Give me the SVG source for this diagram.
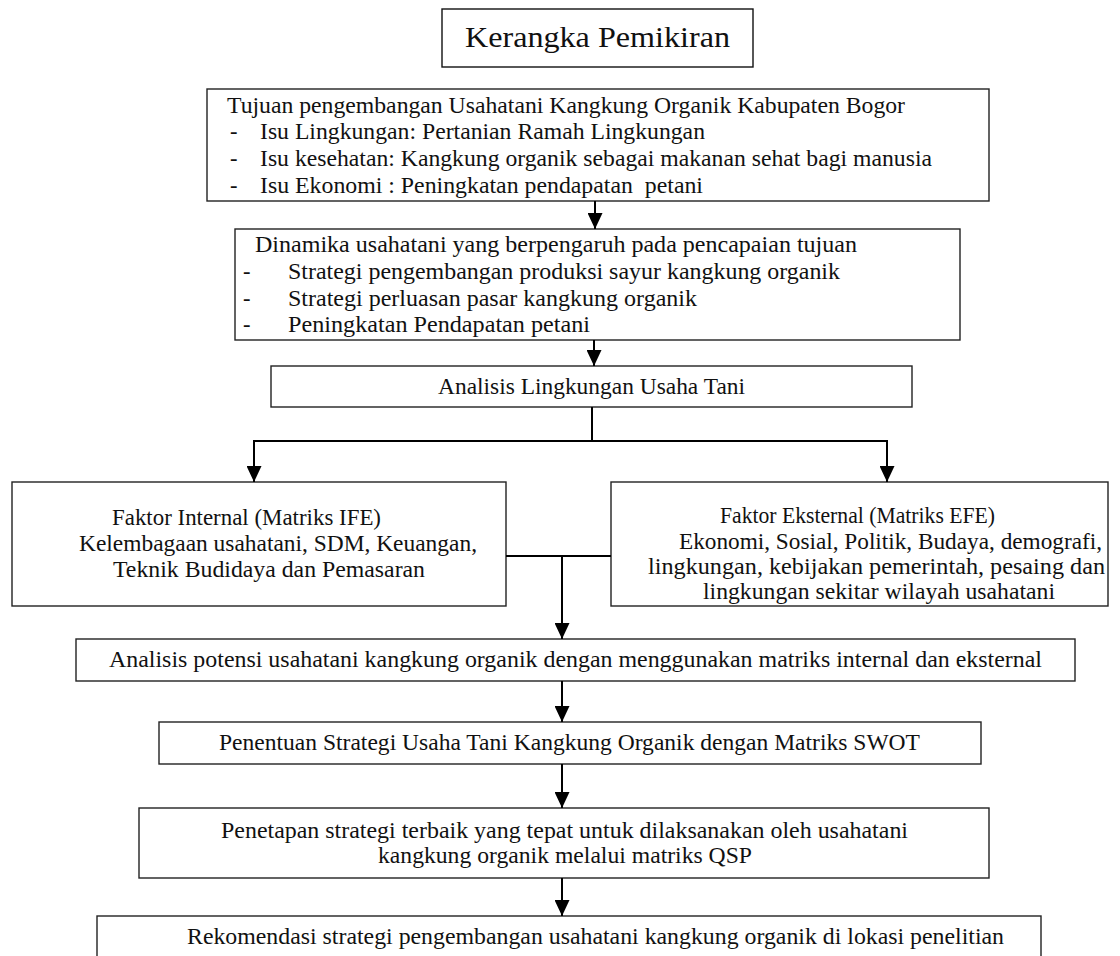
<svg xmlns="http://www.w3.org/2000/svg" width="1120" height="956" viewBox="0 0 1120 956">
<style>
.box{fill:#fff;stroke:#222;stroke-width:1.4}
.t{font-family:"Liberation Serif","Times New Roman",serif;font-size:22.5px;fill:#111;white-space:pre}
.title{font-family:"Liberation Serif","Times New Roman",serif;font-size:30px;fill:#111}
.c{fill:none;stroke:#000;stroke-width:2}
</style>
<defs>
<marker id="ah" viewBox="0 0 16 15" refX="16" refY="7.5" markerWidth="16" markerHeight="15" markerUnits="userSpaceOnUse" orient="auto"><path d="M0,0 L16,7.5 L0,15 z" fill="#000"/></marker>
</defs>
<rect width="1120" height="956" fill="#fff"/>

<g id="title">
<rect class="box" x="442" y="9" width="311" height="58" style="stroke:#111"/>
<text class="title" x="465" y="47" textLength="265" lengthAdjust="spacingAndGlyphs">Kerangka Pemikiran</text>
</g>

<g id="tujuan">
<rect class="box" x="207" y="89" width="782" height="112"/>
<text class="t" x="227" y="113" textLength="678" lengthAdjust="spacingAndGlyphs">Tujuan pengembangan Usahatani Kangkung Organik Kabupaten Bogor</text>
<text class="t" x="230" y="139">-</text>
<text class="t" x="260" y="139" textLength="445" lengthAdjust="spacingAndGlyphs">Isu Lingkungan: Pertanian Ramah Lingkungan</text>
<text class="t" x="230" y="166">-</text>
<text class="t" x="260" y="166" textLength="672" lengthAdjust="spacingAndGlyphs">Isu kesehatan: Kangkung organik sebagai makanan sehat bagi manusia</text>
<text class="t" x="230" y="193">-</text>
<text class="t" x="260" y="193" textLength="443" lengthAdjust="spacingAndGlyphs">Isu Ekonomi : Peningkatan pendapatan  petani</text>
</g>

<g id="dinamika">
<rect class="box" x="235" y="229" width="725" height="111"/>
<text class="t" x="255" y="252" textLength="602" lengthAdjust="spacingAndGlyphs">Dinamika usahatani yang berpengaruh pada pencapaian tujuan</text>
<text class="t" x="243" y="279">-</text>
<text class="t" x="288" y="279" textLength="552" lengthAdjust="spacingAndGlyphs">Strategi pengembangan produksi sayur kangkung organik</text>
<text class="t" x="243" y="306">-</text>
<text class="t" x="288" y="306" textLength="409" lengthAdjust="spacingAndGlyphs">Strategi perluasan pasar kangkung organik</text>
<text class="t" x="243" y="332">-</text>
<text class="t" x="288" y="332" textLength="302" lengthAdjust="spacingAndGlyphs">Peningkatan Pendapatan petani</text>
</g>

<g id="analisis-lingkungan">
<rect class="box" x="271" y="366" width="641" height="41"/>
<text class="t" x="438" y="394" textLength="307" lengthAdjust="spacingAndGlyphs">Analisis Lingkungan Usaha Tani</text>
</g>

<g id="faktor-internal">
<rect class="box" x="12" y="482" width="494" height="124"/>
<text class="t" x="112" y="525" textLength="269" lengthAdjust="spacingAndGlyphs">Faktor Internal (Matriks IFE)</text>
<text class="t" x="79" y="551" textLength="398" lengthAdjust="spacingAndGlyphs">Kelembagaan usahatani, SDM, Keuangan,</text>
<text class="t" x="113" y="577" textLength="312" lengthAdjust="spacingAndGlyphs">Teknik Budidaya dan Pemasaran</text>
</g>

<g id="faktor-eksternal">
<rect class="box" x="611" y="482" width="497" height="124"/>
<text class="t" x="720" y="523" textLength="275" lengthAdjust="spacingAndGlyphs">Faktor Eksternal (Matriks EFE)</text>
<text class="t" x="679" y="549" textLength="423" lengthAdjust="spacingAndGlyphs">Ekonomi, Sosial, Politik, Budaya, demografi,</text>
<text class="t" x="648" y="574" textLength="457" lengthAdjust="spacingAndGlyphs">lingkungan, kebijakan pemerintah, pesaing dan</text>
<text class="t" x="703" y="599" textLength="352" lengthAdjust="spacingAndGlyphs">lingkungan sekitar wilayah usahatani</text>
</g>

<g id="analisis-potensi">
<rect class="box" x="76" y="639" width="999" height="42"/>
<text class="t" x="109" y="667" textLength="933" lengthAdjust="spacingAndGlyphs">Analisis potensi usahatani kangkung organik dengan menggunakan matriks internal dan eksternal</text>
</g>

<g id="swot">
<rect class="box" x="159" y="722" width="822" height="42"/>
<text class="t" x="219" y="750" textLength="701" lengthAdjust="spacingAndGlyphs">Penentuan Strategi Usaha Tani Kangkung Organik dengan Matriks SWOT</text>
</g>

<g id="qsp">
<rect class="box" x="139" y="808" width="850" height="70"/>
<text class="t" x="221" y="838" textLength="687" lengthAdjust="spacingAndGlyphs">Penetapan strategi terbaik yang tepat untuk dilaksanakan oleh usahatani</text>
<text class="t" x="378" y="863" textLength="374" lengthAdjust="spacingAndGlyphs">kangkung organik melalui matriks QSP</text>
</g>

<g id="rekomendasi">
<rect class="box" x="97" y="916" width="944" height="60"/>
<text class="t" x="187" y="944" textLength="817" lengthAdjust="spacingAndGlyphs">Rekomendasi strategi pengembangan usahatani kangkung organik di lokasi penelitian</text>
</g>

<g id="connectors">
<path class="c" d="M595,201 V229" marker-end="url(#ah)"/>
<path class="c" d="M594,340 V366" marker-end="url(#ah)"/>
<path class="c" d="M592,407 V441"/>
<path class="c" d="M253,441 H888"/>
<path class="c" d="M254,441 V482" marker-end="url(#ah)"/>
<path class="c" d="M887,441 V482" marker-end="url(#ah)"/>
<path class="c" d="M506,556 H611"/>
<path class="c" d="M562,556 V639" marker-end="url(#ah)"/>
<path class="c" d="M562,681 V722" marker-end="url(#ah)"/>
<path class="c" d="M562,764 V808" marker-end="url(#ah)"/>
<path class="c" d="M562,878 V916" marker-end="url(#ah)"/>
</g>
</svg>
